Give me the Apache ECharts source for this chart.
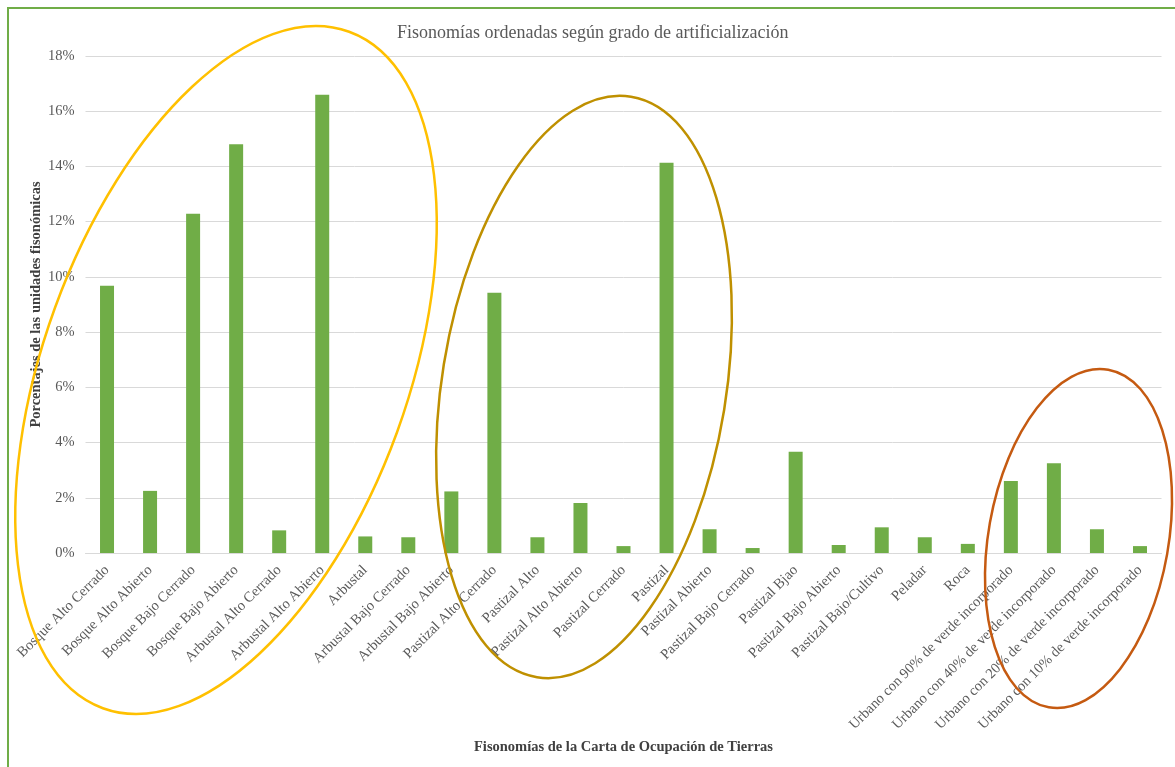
<!DOCTYPE html>
<html>
<head>
<meta charset="utf-8">
<script src="https://cdn.jsdelivr.net/npm/echarts@6/dist/echarts.min.js"></script>
<style>
html,body{margin:0;padding:0;background:#fff;}
#chart{width:1175px;height:767px;}
</style>
</head>
<body>
<div id="chart"></div>
<script>
var categories = [
  'Bosque Alto Cerrado','Bosque Alto Abierto','Bosque Bajo Cerrado','Bosque Bajo Abierto',
  'Arbustal Alto Cerrado','Arbustal Alto Abierto','Arbustal','Arbustal Bajo Cerrado',
  'Arbustal Bajo Abierto','Pastizal Alto Cerrado','Pastizal Alto','Pastizal Alto Abierto',
  'Pastizal Cerrado','Pastizal','Pastizal Abierto','Pastizal Bajo Cerrado','Pastizal Bjao',
  'Pastizal Bajo Abierto','Pastizal Bajo/Cultivo','Peladar','Roca',
  'Urbano con 90% de verde incorporado','Urbano con 40% de verde incorporado',
  'Urbano con 20% de verde incorporado','Urbano con 10% de verde incorporado'
];
var percentages = [
  9.68, 2.25, 12.29, 14.8, 0.82, 16.6, 0.6, 0.57, 2.23, 9.43, 0.57, 1.81,
  0.25, 14.13, 0.86, 0.18, 3.67, 0.29, 0.93, 0.57, 0.33, 2.61, 3.25, 0.86, 0.25
];
var yTicks = { min: 0, max: 18, interval: 2 };
var titleText = 'Fisonomías ordenadas según grado de artificialización';
var xAxisTitle = 'Fisonomías de la Carta de Ocupación de Tierras';
var yAxisTitle = 'Porcentajes de las unidades fisonómicas';

var serif = '"Liberation Serif", "DejaVu Serif", serif';
function deg(d){ return d * Math.PI / 180; }

var chart = echarts.init(document.getElementById('chart'));
chart.setOption({
  animation: false,
  backgroundColor: '#ffffff',
  title: {
    text: titleText,
    left: 392, top: 19,
    textStyle: { fontFamily: serif, fontSize: 18, fontWeight: 'normal', color: '#595959' }
  },
  grid: { left: 85.5, right: 13.5, top: 56, bottom: 214, containLabel: false },
  xAxis: {
    type: 'category',
    data: categories,
    name: xAxisTitle,
    nameLocation: 'middle',
    nameGap: 187,
    nameTextStyle: { fontFamily: serif, fontSize: 14.5, fontWeight: 'bold', color: '#404040' },
    axisLine: { lineStyle: { color: '#d9d9d9', width: 1 } },
    axisTick: { show: false },
    axisLabel: {
      interval: 0, rotate: 45, margin: 15,
      fontFamily: serif, fontSize: 14.5, color: '#595959'
    }
  },
  yAxis: {
    type: 'value',
    min: yTicks.min, max: yTicks.max, interval: yTicks.interval,
    axisLine: { show: false },
    axisTick: { show: false },
    splitLine: { lineStyle: { color: '#d9d9d9', width: 1 } },
    axisLabel: {
      margin: 11,
      fontFamily: serif, fontSize: 14.5, color: '#595959',
      formatter: function(v){ return v + '%'; }
    }
  },
  series: [{
    type: 'bar',
    data: percentages,
    barWidth: 14,
    itemStyle: { color: '#70AD47' }
  }],
  graphic: [
    {
      type: 'text', silent: true,
      x: 36, y: 304.5, rotation: Math.PI / 2,
      style: {
        text: yAxisTitle, align: 'center', verticalAlign: 'middle',
        font: 'bold 14.5px ' + serif, fill: '#404040'
      }
    },
    {
      type: 'rect', silent: true,
      shape: { x: 8, y: 8, width: 1300, height: 900 },
      style: { fill: 'none', stroke: '#70AD47', lineWidth: 2 },
      z: 100
    },
    {
      type: 'ellipse', silent: true,
      x: 226, y: 370, rotation: deg(-20),
      shape: { cx: 0, cy: 0, rx: 182, ry: 360 },
      style: { fill: 'none', stroke: '#FFC000', lineWidth: 2.5 },
      z: 100
    },
    {
      type: 'ellipse', silent: true,
      x: 584, y: 387, rotation: deg(-9.2),
      shape: { cx: 0, cy: 0, rx: 142, ry: 294 },
      style: { fill: 'none', stroke: '#BF9000', lineWidth: 2.5 },
      z: 100
    },
    {
      type: 'ellipse', silent: true,
      x: 1078.5, y: 538.5, rotation: deg(-10),
      shape: { cx: 0, cy: 0, rx: 90, ry: 171.4 },
      style: { fill: 'none', stroke: '#C55A11', lineWidth: 2.5 },
      z: 100
    }
  ]
});
</script>
</body>
</html>
